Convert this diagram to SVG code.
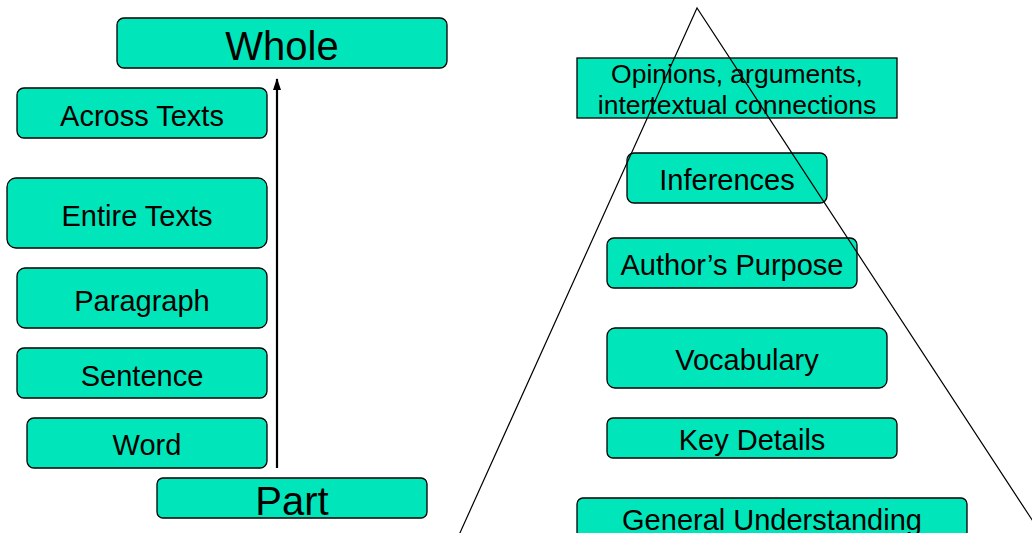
<svg xmlns="http://www.w3.org/2000/svg" width="1032" height="533" viewBox="0 0 1032 533">
<style>
.box{fill:#00E5B9;stroke:#000;stroke-width:1.3}
.t{font-family:"Liberation Sans",Arial,sans-serif;fill:#000;text-anchor:middle}
.m{font-size:29px}
.l{font-size:40px}
.s{font-size:26.5px}
.line{stroke:#000;stroke-width:1.2;fill:none}
.arrow{stroke:#000;stroke-width:2.2;fill:none}
</style>
<defs>
<marker id="ah" markerWidth="12" markerHeight="10" refX="11" refY="5" orient="auto" markerUnits="userSpaceOnUse">
<path d="M0,1 L12,5 L0,9 Z" fill="#000"/>
</marker>
</defs>
<rect width="1032" height="533" fill="#fff"/>
<g id="whole"><rect class="box" x="117" y="18" width="330" height="50" rx="7"/><text class="t l" x="282" y="60">Whole</text></g>
<g id="across"><rect class="box" x="17" y="88" width="250" height="50" rx="7"/><text class="t m" x="142" y="126">Across Texts</text></g>
<g id="entire"><rect class="box" x="7" y="178" width="260" height="70" rx="9"/><text class="t m" x="137" y="226">Entire Texts</text></g>
<g id="paragraph"><rect class="box" x="17" y="268" width="250" height="60" rx="8"/><text class="t m" x="142" y="311">Paragraph</text></g>
<g id="sentence"><rect class="box" x="17" y="348" width="250" height="50" rx="7"/><text class="t m" x="142" y="386">Sentence</text></g>
<g id="word"><rect class="box" x="27" y="418" width="240" height="50" rx="7"/><text class="t m" x="147" y="455">Word</text></g>
<g id="part"><rect class="box" x="157" y="478" width="270" height="40" rx="6"/><text class="t l" x="292" y="515">Part</text></g>
<g id="opinions"><rect class="box" x="577" y="58" width="320" height="60"/><text class="t s" x="737" y="83">Opinions, arguments,</text><text class="t s" x="737" y="114">intertextual connections</text></g>
<g id="inferences"><rect class="box" x="627" y="153" width="200" height="50" rx="7"/><text class="t m" x="727" y="190">Inferences</text></g>
<g id="purpose"><rect class="box" x="607" y="238" width="250" height="50" rx="7"/><text class="t m" x="732" y="275">Author’s Purpose</text></g>
<g id="vocabulary"><rect class="box" x="607" y="328" width="280" height="60" rx="8"/><text class="t m" x="747" y="370">Vocabulary</text></g>
<g id="keydetails"><rect class="box" x="607" y="418" width="290" height="40" rx="6"/><text class="t m" x="752" y="450">Key Details</text></g>
<g id="general"><rect class="box" x="577" y="498" width="390" height="44" rx="6"/><text class="t m" x="772" y="530">General Understanding</text></g>
<g id="connectors">
<line class="arrow" x1="277" y1="468" x2="277" y2="79" marker-end="url(#ah)"/>
</g>
<g id="triangle">
<path class="line" d="M459,535 L697,8 L1042,535"/>
</g>
</svg>
